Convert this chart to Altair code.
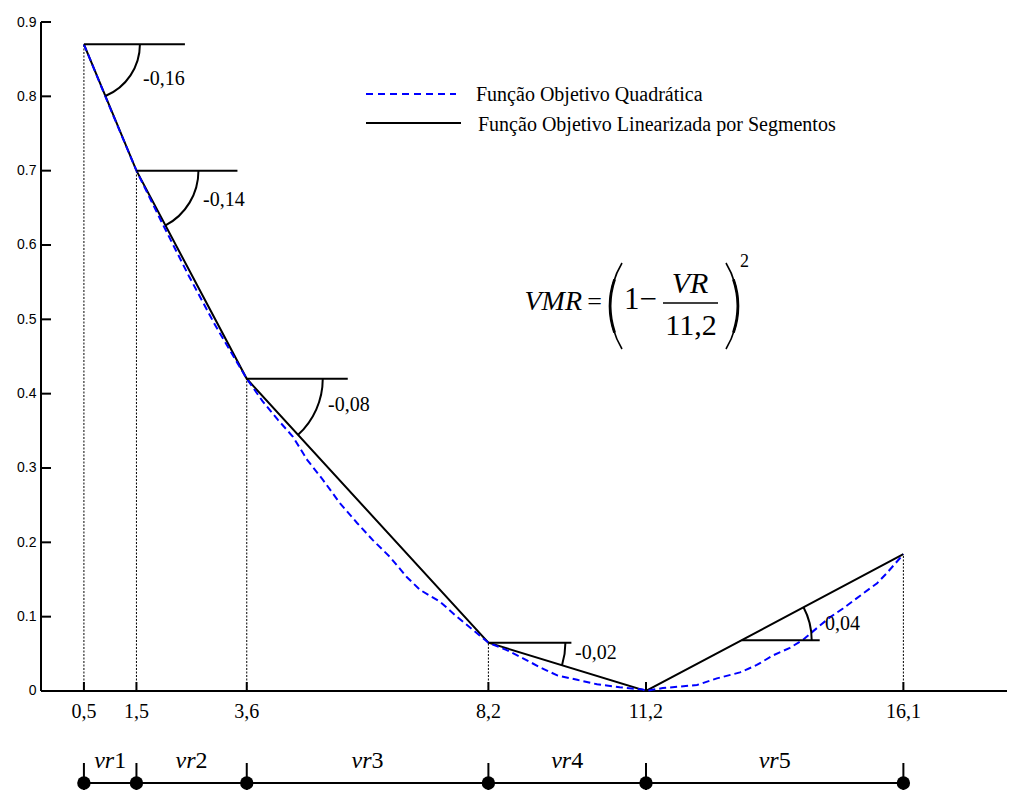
import math
import altair as alt
import pandas as pd

# ---------------- data ----------------
breaks_x = [0.5, 1.5, 3.6, 8.2, 11.2, 16.1]
breaks_y = [0.87, 0.70, 0.42, 0.065, 0.0, 0.184]
break_labels = ["0,5", "1,5", "3,6", "8,2", "11,2", "16,1"]

quad_x = [0.5, 1.0, 1.5, 2.0, 2.5, 3.0, 3.6, 3.9, 4.19, 4.48, 4.75, 5.05, 5.37, 5.70,
          6.00, 6.33, 6.65, 6.90, 7.28, 7.60, 7.91, 8.2, 8.55, 8.86, 9.18, 9.51, 9.89,
          10.27, 10.70, 11.14, 11.2, 11.52, 12.17, 12.55, 12.99, 13.31, 13.62, 13.94,
          14.19, 14.46, 14.70, 14.95, 15.33, 15.60, 15.79, 16.1]
quad_y = [0.87, 0.784, 0.70, 0.628, 0.558, 0.492, 0.42, 0.39, 0.365, 0.342, 0.311, 0.284,
          0.253, 0.226, 0.203, 0.180, 0.153, 0.136, 0.120, 0.100, 0.082, 0.065, 0.055,
          0.044, 0.032, 0.021, 0.015, 0.009, 0.005, 0.002, 0.0, 0.004, 0.008, 0.017,
          0.025, 0.035, 0.048, 0.058, 0.069, 0.085, 0.099, 0.111, 0.131, 0.145, 0.159,
          0.184]

slope_labels = ["-0,16", "-0,14", "-0,08", "-0,02", "0,04"]
vr_numbers = ["1", "2", "3", "4", "5"]
y_ticks = [0, 0.1, 0.2, 0.3, 0.4, 0.5, 0.6, 0.7, 0.8, 0.9]
legend_labels = ["Função Objetivo Quadrática", "Função Objetivo Linearizada por Segmentos"]

# ---------------- layout ----------------
PAD_L, PAD_T = 33, 14
W, H = 966, 768
PXX = 52.53            # pixels per x unit
PXY = 743.33           # pixels per y unit
X0 = -0.317
X1 = X0 + W / PXX
Y1 = 0.9
Y0 = Y1 - H / PXY
LEFT = 8 + PAD_L       # page x of plot left
TOP = 8 + PAD_T        # page y of plot top


def X(px):
    return X0 + (px - LEFT) / PXX


def Y(py):
    return Y1 - (py - TOP) / PXY


SERIF = "Liberation Serif"
SANS = "Liberation Sans"
BLUE = "#0000ff"

xs = alt.Scale(domain=[X0, X1], nice=False, zero=False)
ys = alt.Scale(domain=[Y0, Y1], nice=False, zero=False)
yaxis = alt.Axis(values=y_ticks, domain=False, ticks=False, tickSize=0, grid=False,
                 labelFont=SANS, labelFontSize=14, labelColor="black", labelPadding=5,
                 format="~g", title="")


def ex(f):
    return alt.X(f"{f}:Q", scale=xs, axis=None)


def ey(f):
    return alt.Y(f"{f}:Q", scale=ys, axis=yaxis)


layers = []

# axes lines
axis_df = pd.DataFrame({"x": [X0], "x2": [X1], "y": [0.0], "y2": [0.9]})
layers.append(alt.Chart(axis_df).mark_rule(color="black", strokeWidth=2).encode(
    x=ex("x"), x2="x2", y=ey("y")))
layers.append(alt.Chart(axis_df).mark_rule(color="black", strokeWidth=2).encode(
    x=ex("x"), y=ey("y"), y2="y2"))

# inward y ticks
yt_df = pd.DataFrame({"y": y_ticks})
yt_df["x"] = X0
yt_df["x2"] = X0 + 10 / PXX
layers.append(alt.Chart(yt_df).mark_rule(color="black", strokeWidth=2).encode(
    x=ex("x"), x2="x2", y=ey("y")))

bp = pd.DataFrame({"x": breaks_x, "y": breaks_y, "label": break_labels})

# dotted verticals
vd = bp[bp["y"] > 0].copy()
vd["y0"] = 0.0
layers.append(alt.Chart(vd).mark_rule(color="black", strokeWidth=1, strokeDash=[2, 1.5]).encode(
    x=ex("x"), y=ey("y0"), y2="y"))

# inward x ticks
xt = bp.copy()
xt["y0"] = 0.0
xt["y1"] = 9 / PXY
layers.append(alt.Chart(xt).mark_rule(color="black", strokeWidth=2).encode(
    x=ex("x"), y=ey("y0"), y2="y1"))

# x labels
xl = bp.copy()
xl["ly"] = Y(712)
layers.append(alt.Chart(xl).mark_text(font=SERIF, fontSize=20, color="black",
                                      baseline="middle", align="center").encode(
    x=ex("x"), y=ey("ly"), text="label:N"))

# piecewise linear
layers.append(alt.Chart(bp).mark_line(color="black", strokeWidth=2).encode(
    x=ex("x"), y=ey("y")))

# quadratic
qd = pd.DataFrame({"x": quad_x, "y": quad_y})
layers.append(alt.Chart(qd).mark_line(color=BLUE, strokeWidth=2, strokeDash=[7, 4]).encode(
    x=ex("x"), y=ey("y")))

# angle annotations
e_cx = X(741.7)
e_cy = breaks_y[4] + (e_cx - breaks_x[4]) * (breaks_y[5] - breaks_y[4]) / (breaks_x[5] - breaks_x[4])
angle_defs = [
    (breaks_x[0], breaks_y[0], breaks_x[1], breaks_y[1], 56, 101, 143, 79),
    (breaks_x[1], breaks_y[1], breaks_x[2], breaks_y[2], 62, 101, 203, 200),
    (breaks_x[2], breaks_y[2], breaks_x[3], breaks_y[3], 76, 101, 328, 405),
    (breaks_x[3], breaks_y[3], breaks_x[4], breaks_y[4], 77, 83, 575, 653),
    (e_cx, e_cy, breaks_x[5], breaks_y[5], 70, 78, 825, 624),
]
for i, (cx, cy, nx, ny, r, hl, lpx, lpy) in enumerate(angle_defs):
    dxp = (nx - cx) * PXX
    dyp = (ny - cy) * PXY
    t_dir = math.atan2(dxp, dyp)
    t_h = math.pi / 2
    a_df = pd.DataFrame({"cx": [cx], "cy": [cy], "t1": [min(t_dir, t_h)], "t2": [max(t_dir, t_h)],
                         "hx2": [cx + hl / PXX], "lx": [X(lpx)], "ly": [Y(lpy)],
                         "label": [slope_labels[i]]})
    layers.append(alt.Chart(a_df).mark_rule(color="black", strokeWidth=2).encode(
        x=ex("cx"), x2="hx2", y=ey("cy")))
    layers.append(alt.Chart(a_df).mark_arc(innerRadius=r - 1, outerRadius=r + 1, color="black").encode(
        x=ex("cx"), y=ey("cy"),
        theta=alt.Theta("t1:Q", scale=None), theta2=alt.Theta2("t2")))
    layers.append(alt.Chart(a_df).mark_text(font=SERIF, fontSize=20, color="black",
                                            align="left", baseline="middle").encode(
        x=ex("lx"), y=ey("ly"), text="label:N"))

# legend
leg = pd.DataFrame({
    "x1": [X(366), X(366)], "x2": [X(456), X(461)],
    "y": [Y(94), Y(123)], "tx": [X(476), X(478)], "ty": [Y(95), Y(125)],
    "label": legend_labels, "k": ["q", "l"]})
layers.append(alt.Chart(leg[leg.k == "q"]).mark_rule(color=BLUE, strokeWidth=2, strokeDash=[7, 5]).encode(
    x=ex("x1"), x2="x2", y=ey("y")))
layers.append(alt.Chart(leg[leg.k == "l"]).mark_rule(color="black", strokeWidth=2).encode(
    x=ex("x1"), x2="x2", y=ey("y")))
layers.append(alt.Chart(leg).mark_text(font=SERIF, fontSize=20, color="black",
                                       align="left", baseline="middle").encode(
    x=ex("tx"), y=ey("ty"), text="label:N"))

# equation VMR = (1 - VR/11,2)^2
eq_c = 302
eq = pd.DataFrame({
    "x": [X(582), X(602), X(624), X(690), X(691), X(740)],
    "y": [Y(eq_c), Y(eq_c), Y(eq_c - 2), Y(284), Y(326), Y(262)],
    "t": ["VMR", "=", "1−", "VR", "11,2", "2"],
    "k": ["a", "f", "b", "c", "d", "e"]})
layers.append(alt.Chart(eq[eq.k == "a"]).mark_text(font=SERIF, fontSize=28, fontStyle="italic",
                                                   color="black", align="right", baseline="middle").encode(
    x=ex("x"), y=ey("y"), text="t:N"))
layers.append(alt.Chart(eq[eq.k == "f"]).mark_text(font=SERIF, fontSize=26,
                                                   color="black", align="right", baseline="middle").encode(
    x=ex("x"), y=ey("y"), text="t:N"))
layers.append(alt.Chart(eq[eq.k == "b"]).mark_text(font=SERIF, fontSize=31, color="black",
                                                   align="left", baseline="middle").encode(
    x=ex("x"), y=ey("y"), text="t:N"))
layers.append(alt.Chart(eq[eq.k == "c"]).mark_text(font=SERIF, fontSize=30, fontStyle="italic",
                                                   color="black", align="center", baseline="middle").encode(
    x=ex("x"), y=ey("y"), text="t:N"))
layers.append(alt.Chart(eq[eq.k == "d"]).mark_text(font=SERIF, fontSize=30, color="black",
                                                   align="center", baseline="middle").encode(
    x=ex("x"), y=ey("y"), text="t:N"))
layers.append(alt.Chart(eq[eq.k == "e"]).mark_text(font=SERIF, fontSize=18, color="black",
                                                   align="left", baseline="middle").encode(
    x=ex("x"), y=ey("y"), text="t:N"))
frac = pd.DataFrame({"x": [X(663)], "x2": [X(718)], "y": [Y(303)]})
layers.append(alt.Chart(frac).mark_rule(color="black", strokeWidth=1.5).encode(
    x=ex("x"), x2="x2", y=ey("y")))

# big parentheses as arcs
R = 83.0
half = math.asin(43 / R)
paren = pd.DataFrame({
    "cx": [X(610 + R), X(738 - R)],
    "cy": [Y(306), Y(306)],
    "t1": [1.5 * math.pi - half, 0.5 * math.pi - half],
    "t2": [1.5 * math.pi + half, 0.5 * math.pi + half]})
layers.append(alt.Chart(paren).mark_arc(innerRadius=R - 0.8, outerRadius=R + 0.8, color="black").encode(
    x=ex("cx"), y=ey("cy"), theta=alt.Theta("t1:Q", scale=None), theta2=alt.Theta2("t2")))
paren_mid = paren.copy()
paren_mid["t1"] = [1.5 * math.pi - half * 0.6, 0.5 * math.pi - half * 0.6]
paren_mid["t2"] = [1.5 * math.pi + half * 0.6, 0.5 * math.pi + half * 0.6]
layers.append(alt.Chart(paren_mid).mark_arc(innerRadius=R - 1.6, outerRadius=R + 1.2, color="black").encode(
    x=ex("cx"), y=ey("cy"), theta=alt.Theta("t1:Q", scale=None), theta2=alt.Theta2("t2")))

# lower interval bar (vr1..vr5)
vr_y = Y(783)
bar = pd.DataFrame({"x": [breaks_x[0]], "x2": [breaks_x[-1]], "y": [vr_y]})
layers.append(alt.Chart(bar).mark_rule(color="black", strokeWidth=2).encode(
    x=ex("x"), x2="x2", y=ey("y")))
vt = pd.DataFrame({"x": breaks_x})
vt["ya"] = Y(763)
vt["yb"] = Y0
vt["yc"] = vr_y
layers.append(alt.Chart(vt).mark_rule(color="black", strokeWidth=2).encode(
    x=ex("x"), y=ey("ya"), y2="yb"))
layers.append(alt.Chart(vt).mark_point(filled=True, size=180, color="black", opacity=1).encode(
    x=ex("x"), y=ey("yc")))
mids = [(breaks_x[i] + breaks_x[i + 1]) / 2 for i in range(5)]
vrl = pd.DataFrame({"x": mids, "n": vr_numbers, "v": ["vr"] * 5})
vrl["y"] = Y(761)
layers.append(alt.Chart(vrl).mark_text(font=SERIF, fontSize=24, fontStyle="italic", color="black",
                                       align="right", baseline="middle", dx=4).encode(
    x=ex("x"), y=ey("y"), text="v:N"))
layers.append(alt.Chart(vrl).mark_text(font=SERIF, fontSize=24, color="black",
                                       align="left", baseline="middle", dx=4).encode(
    x=ex("x"), y=ey("y"), text="n:N"))

chart = alt.layer(*layers).properties(
    width=W, height=H,
    autosize=alt.AutoSizeParams(type="none"),
    padding={"left": PAD_L, "top": PAD_T, "right": 0, "bottom": 0},
    background="white",
).configure_view(strokeWidth=0)

chart.save("out.html", embed_options={"renderer": "svg", "actions": False})
